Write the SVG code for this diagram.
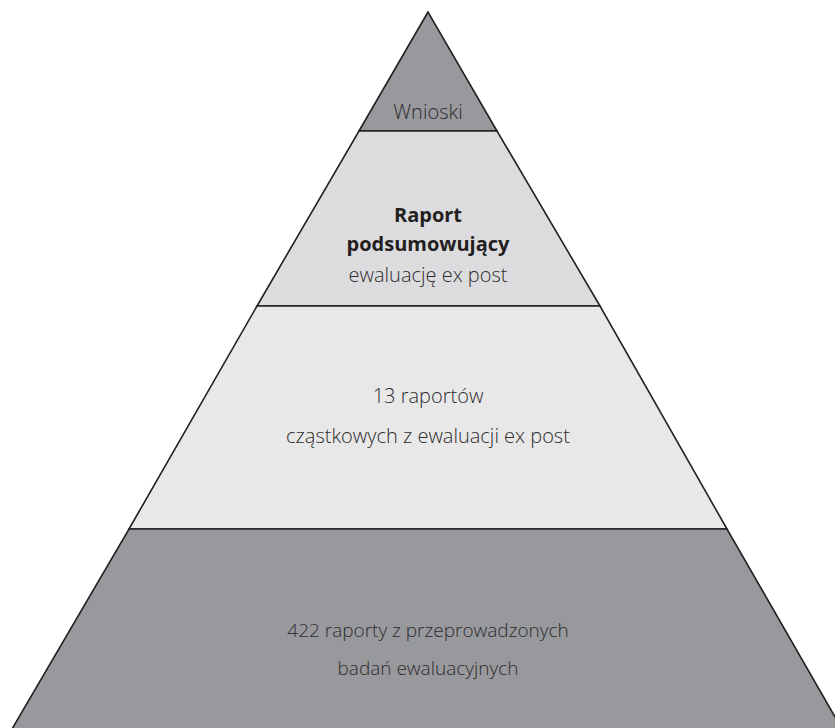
<svg xmlns="http://www.w3.org/2000/svg" width="835" height="728" viewBox="0 0 835 728">
<style>
.edge{stroke:#231f20;stroke-width:1.6;stroke-linejoin:miter}
.t{font-family:"Open Sans","Liberation Sans",sans-serif;font-weight:300;font-size:20px;fill:#2e2c2d;text-anchor:middle}
.b{font-weight:700;fill:#231f20}
.s{font-size:19px}
</style>
<rect width="835" height="728" fill="#ffffff"/>
<g id="level-wnioski">
<polygon class="edge" points="428,12 359,131 497,131" fill="#98999c"/>
<text class="t" x="428" y="119">Wnioski</text>
</g>
<g id="level-raport">
<polygon class="edge" points="359,131 497,131 600,306 257,306" fill="#dcdcde"/>
<text class="t b" x="428" y="222">Raport</text>
<text class="t b" x="428" y="251">podsumowujący</text>
<text class="t" x="428" y="282">ewaluację ex post</text>
</g>
<g id="level-13">
<polygon class="edge" points="257,306 600,306 727,529 129,529" fill="#e8e8e9"/>
<text class="t" x="428" y="403">13 raportów</text>
<text class="t" x="428" y="443">cząstkowych z ewaluacji ex post</text>
</g>
<g id="level-422">
<polygon class="edge" points="129,529 727,529 842,729 12,729" fill="#98999c"/>
<text class="t s" x="428" y="637">422 raporty z przeprowadzonych</text>
<text class="t s" x="428" y="675">badań ewaluacyjnych</text>
</g>
<g id="connectors"></g>
</svg>
